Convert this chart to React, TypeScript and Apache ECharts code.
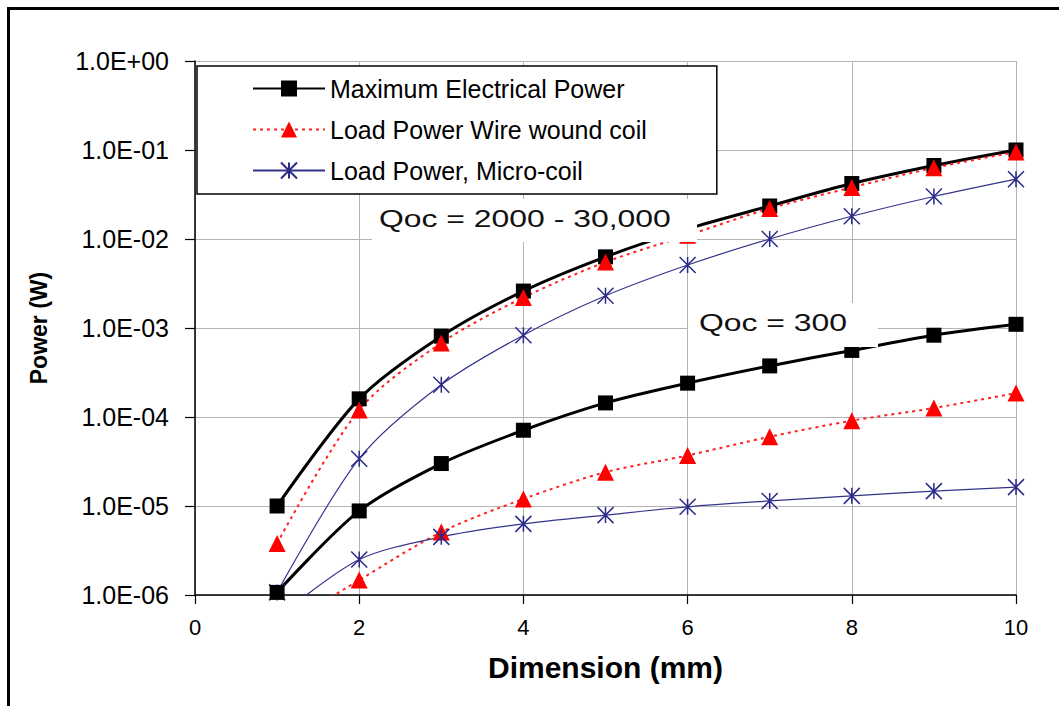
import React, { useEffect, useRef } from "react";
import * as echarts from "echarts";

const dims = [1, 2, 3, 4, 5, 6, 7, 8, 9, 10];
const xTicks = [0, 2, 4, 6, 8, 10];
const seriesNames = [
  "Maximum Electrical Power",
  "Load Power Wire wound coil",
  "Load Power, Micro-coil",
];
// Qoc = 2000 - 30,000
const maxPowerHighQ = [1.0e-5, 1.6e-4, 8.1e-4, 2.6e-3, 6.3e-3, 1.3e-2, 2.35e-2, 4.2e-2, 6.7e-2, 1.0e-1];
const wirePowerHighQ = [3.8e-6, 1.2e-4, 6.8e-4, 2.2e-3, 5.5e-3, 1.1e-2, 2.2e-2, 3.8e-2, 6.3e-2, 9.5e-2];
const microPowerHighQ = [1.07e-6, 3.4e-5, 2.3e-4, 8.3e-4, 2.3e-3, 5.1e-3, 1.0e-2, 1.8e-2, 3.0e-2, 4.7e-2];
// Qoc = 300
const maxPowerLowQ = [1.07e-6, 8.8e-6, 3.0e-5, 7.1e-5, 1.44e-4, 2.4e-4, 3.75e-4, 5.6e-4, 8.3e-4, 1.1e-3];
const wirePowerLowQ = [4e-7, 1.47e-6, 5.1e-6, 1.2e-5, 2.4e-5, 3.7e-5, 6.0e-5, 9.1e-5, 1.26e-4, 1.86e-4];
const microPowerLowQ = [5.5e-7, 2.5e-6, 4.5e-6, 6.3e-6, 7.9e-6, 9.8e-6, 1.14e-5, 1.3e-5, 1.47e-5, 1.63e-5];

const annotHigh = "Qoc = 2000 - 30,000";
const annotLow = "Qoc = 300";

const FONT = "'Liberation Sans', Arial, Helvetica, sans-serif";
const STAR = "path://M0 0L20 20M20 0L0 20M10 0L10 20";

function fmtSci(v: number): string {
  const e = Math.round(Math.log10(v));
  const s = e < 0 ? "-" : "+";
  return "1.0E" + s + String(Math.abs(e)).padStart(2, "0");
}

function pairs(vals: number[]) {
  return dims.map((d, i) => [d, vals[i]]);
}

function maxStyle(name: string, vals: number[]) {
  return {
    name,
    type: "line",
    data: pairs(vals),
    smooth: 0.3,
    symbol: "rect",
    symbolSize: 15,
    lineStyle: { color: "#000", width: 3 },
    itemStyle: { color: "#000" },
    clip: true,
  };
}
function wireStyle(name: string, vals: number[]) {
  return {
    name,
    type: "line",
    data: pairs(vals),
    smooth: 0.3,
    symbol: "triangle",
    symbolSize: 17,
    lineStyle: { color: "#ff2020", width: 2, type: [3, 4] },
    itemStyle: { color: "#ff0000" },
    clip: true,
  };
}
function microStyle(name: string, vals: number[]) {
  return {
    name,
    type: "line",
    data: pairs(vals),
    smooth: 0.3,
    symbol: STAR,
    symbolSize: 16,
    symbolKeepAspect: true,
    lineStyle: { color: "#34348c", width: 1.2 },
    itemStyle: { color: "rgba(0,0,0,0)", borderColor: "#2a2a8a", borderWidth: 1.5 },
    clip: true,
  };
}

export default function App() {
  const ref = useRef<HTMLDivElement>(null);
  useEffect(() => {
    if (!ref.current) return;
    const chart = echarts.init(ref.current, null, { renderer: "svg" });
    chart.setOption({
      animation: false,
      backgroundColor: "#fff",
      grid: { left: 195, top: 61, width: 821, height: 534, containLabel: false },
      legend: {
        data: seriesNames,
        orient: "vertical",
        left: 197,
        top: 66,
        padding: [10, 70, 11, 55],
        itemGap: 16,
        itemWidth: 72,
        itemHeight: 20,
        backgroundColor: "#fff",
        borderColor: "#000",
        borderWidth: 1.5,
        textStyle: { fontFamily: FONT, fontSize: 25, lineHeight: 24, color: "#000" },
        z: 10,
      },
      xAxis: {
        type: "value",
        min: xTicks[0],
        max: xTicks[xTicks.length - 1],
        interval: 2,
        name: "Dimension (mm)",
        nameLocation: "middle",
        nameGap: 57,
        nameTextStyle: { fontFamily: FONT, fontSize: 30, fontWeight: "bold", color: "#000" },
        axisLine: { lineStyle: { color: "#000", width: 1.5 } },
        axisTick: { show: true, length: 9, lineStyle: { color: "#000", width: 1.2 } },
        axisLabel: { fontFamily: FONT, fontSize: 22, color: "#000", margin: 21 },
        splitLine: { show: true, lineStyle: { color: "#b4b4b4", width: 1 } },
      },
      yAxis: {
        type: "log",
        logBase: 10,
        min: 1e-6,
        max: 1,
        splitNumber: 6,
        name: "Power (W)",
        nameLocation: "middle",
        nameRotate: 90,
        nameGap: 145,
        nameTextStyle: { fontFamily: FONT, fontSize: 23, fontWeight: "bold", color: "#000" },
        axisLine: { show: true, lineStyle: { color: "#000", width: 1.5 } },
        axisTick: { show: true, length: 10, lineStyle: { color: "#000", width: 1.2 } },
        axisLabel: { fontFamily: FONT, fontSize: 25, color: "#000", margin: 26, formatter: fmtSci },
        splitLine: { show: true, lineStyle: { color: "#b4b4b4", width: 1 } },
      },
      series: [
        maxStyle(seriesNames[0], maxPowerHighQ),
        wireStyle(seriesNames[1], wirePowerHighQ),
        microStyle(seriesNames[2], microPowerHighQ),
        maxStyle(seriesNames[0], maxPowerLowQ),
        wireStyle(seriesNames[1], wirePowerLowQ),
        microStyle(seriesNames[2], microPowerLowQ),
      ],
      graphic: [
        {
          type: "rect",
          z: 100,
          shape: { x: 372, y: 199, width: 325, height: 43 },
          style: { fill: "#fff" },
        },
        {
          type: "text",
          z: 101,
          x: 379,
          y: 219,
          scaleX: 1.33,
          style: {
            text: annotHigh,
            fontFamily: FONT,
            fontSize: 24,
            fill: "#111",
            verticalAlign: "middle",
            align: "left",
          },
        },
        {
          type: "rect",
          z: 100,
          shape: { x: 688, y: 303, width: 190, height: 44 },
          style: { fill: "#fff" },
        },
        {
          type: "text",
          z: 101,
          x: 699,
          y: 323,
          scaleX: 1.33,
          style: {
            text: annotLow,
            fontFamily: FONT,
            fontSize: 24,
            fill: "#111",
            verticalAlign: "middle",
            align: "left",
          },
        },
        {
          type: "rect",
          z: 200,
          silent: true,
          shape: { x: 8.5, y: 8.5, width: 1200, height: 900 },
          style: { fill: "none", stroke: "#000", lineWidth: 3 },
        },
      ],
    });
    return () => chart.dispose();
  }, []);
  return (
    <div
      ref={ref}
      style={{ position: "fixed", left: 0, top: 0, width: 1059, height: 706, background: "#fff" }}
    />
  );
}
